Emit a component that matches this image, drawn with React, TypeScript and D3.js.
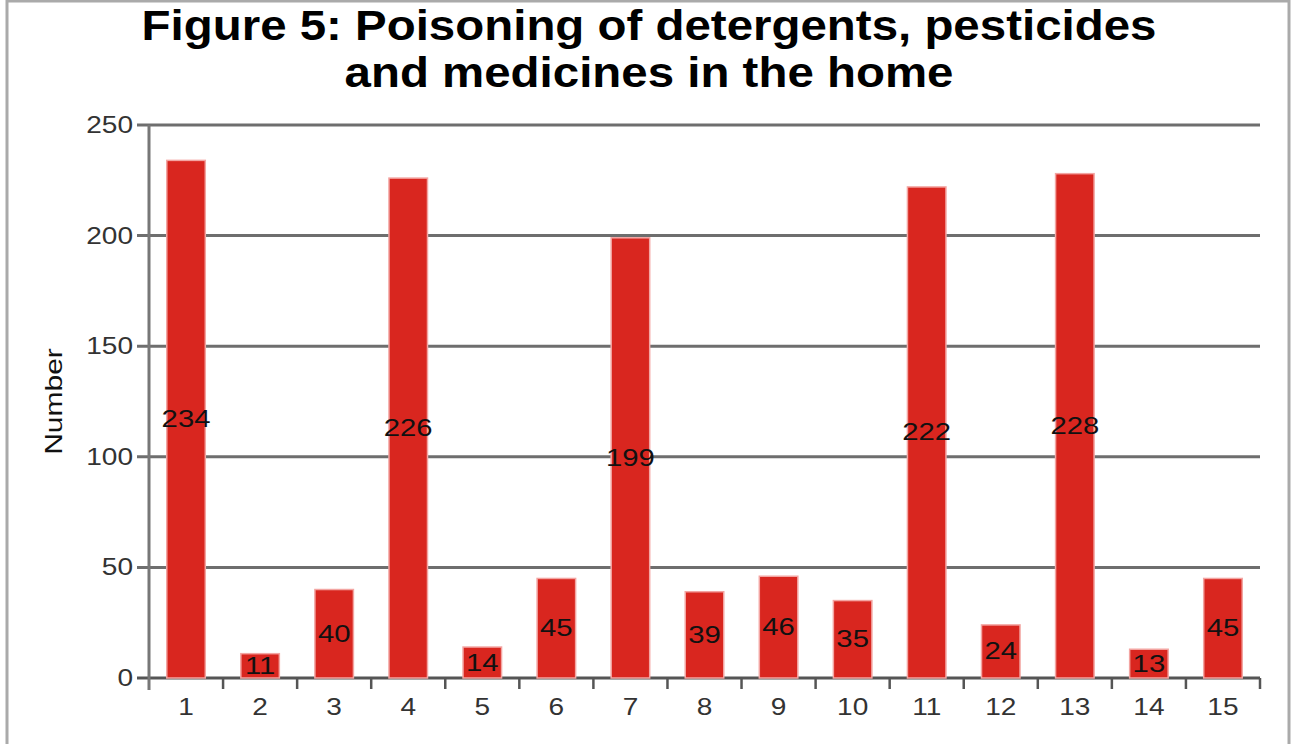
import * as d3 from 'd3';

const categories = ['1', '2', '3', '4', '5', '6', '7', '8', '9', '10', '11', '12', '13', '14', '15'];
const values = [234, 11, 40, 226, 14, 45, 199, 39, 46, 35, 222, 24, 228, 13, 45];
const yTicks = [0, 50, 100, 150, 200, 250];
const titleLines = ['Figure 5: Poisoning of detergents, pesticides', 'and medicines in the home'];

const W = 1292;
const H = 744;
const margin = { top: 125, right: 32, bottom: 66, left: 149 };
const font = 'Liberation Sans, Arial';

// the original uses wide glyphs, so stretch text horizontally
const wide = (x: number, y: number, sx: number) => `translate(${x}, ${y}) scale(${sx}, 1)`;

function App() {
  const plotW = W - margin.left - margin.right;
  const plotH = H - margin.top - margin.bottom;

  const x = d3.scaleBand().domain(categories).range([0, plotW]).paddingInner(0.48).paddingOuter(0.24);
  const xStep = d3.scaleBand().domain(categories).range([0, plotW]);
  const y = d3.scaleLinear().domain([0, 250]).range([plotH, 0]);

  return (
    <svg width={W} height={H} style={{ position: 'absolute', left: 0, top: 0, background: '#fff' }}>
      <rect x={7} y={1} width={1282} height={760} fill="none" stroke="#aaa" strokeWidth={3} />
      {titleLines.map((t, i) => (
        <text key={i} transform={wide(649, 40 + i * 47, 1.13)} textAnchor="middle" fontFamily={font} fontWeight="bold" fontSize={42} fill="#000">
          {t}
        </text>
      ))}
      <text transform={`translate(62, ${margin.top + plotH / 2}) rotate(-90) scale(1.25, 1)`} textAnchor="middle" fontFamily={font} fontSize={24} fill="#111">
        Number
      </text>
      <g transform={`translate(${margin.left}, ${margin.top})`}>
        {yTicks.map((t) => (
          <g key={t}>
            <line x1={-12} x2={plotW} y1={y(t)} y2={y(t)} stroke={t === 0 ? '#555' : '#6e6e6e'} strokeWidth={3} />
            <text transform={wide(-16, y(t) + 8, 1.22)} textAnchor="end" fontFamily={font} fontSize={23} fill="#333">
              {t}
            </text>
          </g>
        ))}
        <line x1={0} x2={0} y1={0} y2={plotH + 12} stroke="#777" strokeWidth={3} />
        {categories.map((c) => (
          <line key={'t' + c} x1={xStep(c)! + xStep.bandwidth()} x2={xStep(c)! + xStep.bandwidth()} y1={plotH} y2={plotH + 11} stroke="#555" strokeWidth={2.5} />
        ))}
        {categories.map((c, i) => (
          <g key={c}>
            <rect x={x(c)!} y={y(values[i])} width={x.bandwidth()} height={plotH - y(values[i])} fill="#d9261f" stroke="#f3a5a2" strokeWidth={1.5} />
            <text transform={wide(x(c)! + x.bandwidth() / 2, (y(values[i]) + plotH) / 2 + 8, 1.22)} textAnchor="middle" fontFamily={font} fontSize={24} fill="#111">
              {values[i]}
            </text>
            <text transform={wide(xStep(c)! + xStep.bandwidth() / 2, plotH + 37, 1.22)} textAnchor="middle" fontFamily={font} fontSize={23} fill="#333">
              {c}
            </text>
          </g>
        ))}
      </g>
    </svg>
  );
}

export default App;
